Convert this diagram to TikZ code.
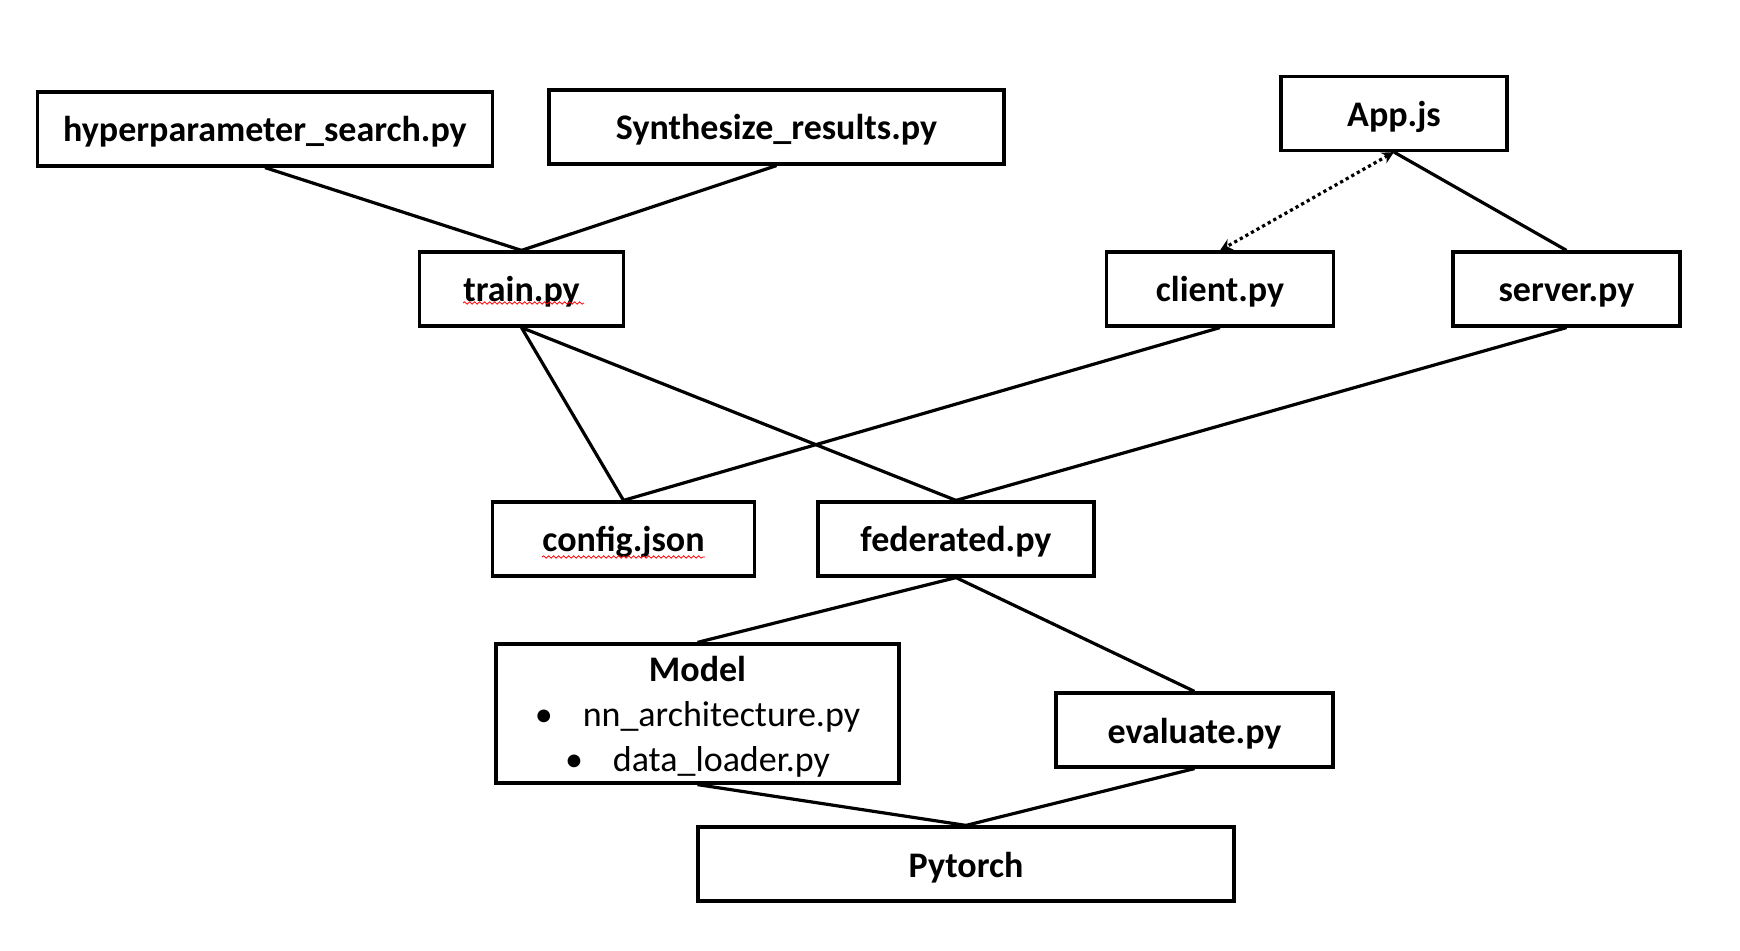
\documentclass[tikz,border=0pt]{standalone}
\usepackage{fontspec}
\setmainfont{Carlito}
\usetikzlibrary{arrows.meta,decorations.pathmorphing}

\tikzset{
  filebox/.style={draw, line width=1.6pt, inner sep=2pt, minimum height=37pt, text height=14.5pt, text depth=1.5pt, font=\fontsize{18}{22}\selectfont\bfseries},
  link/.style={line width=1.6pt},
  spellmark/.style={red, line width=0.4pt, decorate, decoration={snake, amplitude=0.6pt, segment length=2.5pt}}
}

\begin{document}
\begin{tikzpicture}[x=0.5pt,y=0.5pt,yscale=-1,xscale=1]
                \useasboundingbox (0,0) rectangle (1740,951);

                %Shape: Rectangle [top row]
                \node [filebox, minimum width=227.5pt] (hyper) at (265,129) {hyperparameter\_search.py};
                \node [filebox, minimum width=227.5pt] (synth) at (776.5,127) {Synthesize\_results.py};
                \node [filebox, minimum width=113pt] (app) at (1394,113.5) {App.js};
                %Shape: Rectangle [second row]
                \node [filebox, minimum width=102pt] (train) at (521.5,289) {train.py};
                \node [filebox, minimum width=113.5pt] (client) at (1220,289) {client.py};
                \node [filebox, minimum width=113.5pt] (server) at (1566.5,289) {server.py};
                %Shape: Rectangle [third row]
                \node [filebox, minimum width=131pt] (config) at (623.5,539) {config.json};
                \node [filebox, minimum width=138pt] (fed) at (956,539) {federated.py};
                %Shape: Rectangle [model and evaluation]
                \node [filebox, text height=, text depth=, minimum width=201.5pt, minimum height=69.5pt, align=center] (model) at (697.5,713.5)
                  {\rule{0pt}{16pt}Model\\[0.5pt]\mdseries\textbullet\hspace{0.83em}nn\_architecture.py\\[0.5pt]\mdseries\textbullet\hspace{0.83em}data\_loader.py};
                \node [filebox, minimum width=138.5pt] (eval) at (1194.5,730) {evaluate.py};
                %Shape: Rectangle [bottom]
                \node [filebox, minimum width=268pt] (torch) at (966,864) {Pytorch};

                %Straight Lines
                \draw [link] (hyper.south) -- (train.north) ;
                \draw [link] (synth.south) -- (train.north) ;
                \draw [link] (app.south) -- (server.north) ;
                \draw [link] (train.south) -- (config.north) ;
                \draw [link] (train.south) -- (fed.north) ;
                \draw [link] (client.south) -- (config.north) ;
                \draw [link] (server.south) -- (fed.north) ;
                \draw [link] (fed.south) -- (model.north) ;
                \draw [link] (fed.south) -- (eval.north) ;
                \draw [link] (model.south) -- (torch.north) ;
                \draw [link] (eval.south) -- (torch.north) ;
                %Dotted Arrow
                \draw [link, dash pattern=on 1.6pt off 1.6pt, {Stealth[length=6pt,width=6pt]}-{Stealth[length=6pt,width=6pt]}] (app.south) -- (client.north) ;

                % Spelling marks
                \draw [spellmark] (463,303) -- (584,303) ;
                \draw [spellmark] (542,557) -- (705,557) ;

\end{tikzpicture}
\end{document}
